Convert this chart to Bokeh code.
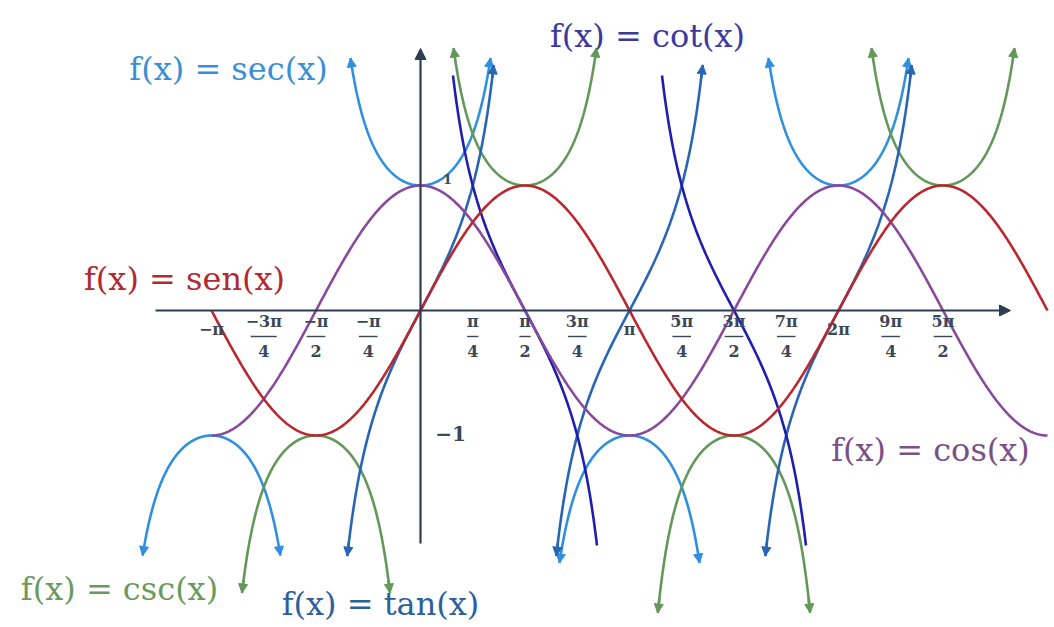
import numpy as np
from bokeh.plotting import figure
from bokeh.models import Range1d, Arrow, NormalHead
from bokeh.core.properties import value
from bokeh.embed import file_html
from bokeh.resources import INLINE

PI = np.pi

# ---------------- data ----------------
# x-axis ticks, in multiples of pi/4, with stacked fraction labels
tick_quarters = [-4, -3, -2, -1, 1, 2, 3, 4, 5, 6, 7, 8, 9, 10]
tick_numerators = ["−π", "−3π", "−π", "−π", "π", "π", "3π", "π", "5π", "3π", "7π", "2π", "9π", "5π"]
tick_denominators = ["", "4", "2", "4", "4", "2", "4", "", "4", "2", "4", "", "4", "2"]

# sine / cosine drawn over this domain (radians)
wave_domain = [-PI, 3 * PI]

# tangent branches: centres and half width (radians)
tan_centers = [0.0, PI, 2 * PI]
tan_half_width = 1.10

# cotangent branches: centres and |value| where they stop
cot_centers = [PI / 2, 3 * PI / 2]
cot_limit = 1.88

# secant branches: centres and |value| where they stop
sec_centers = [-PI, 0.0, PI, 2 * PI]
sec_limits = [1.96, 2.02, 2.02, 2.02]

# cosecant branches: centres and |value| where they stop
csc_centers = [-PI / 2, PI / 2, 3 * PI / 2, 5 * PI / 2]
csc_limits = [2.26, 2.10, 2.42, 2.10]

label_texts = ["f(x) = sec(x)", "f(x) = cot(x)", "f(x) = sen(x)",
               "f(x) = cos(x)", "f(x) = csc(x)", "f(x) = tan(x)"]

# ---------------- layout helpers (page pixels -> data) ----------------
OX, OY, PX_PI, PX_UNIT = 420.0, 310.0, 209.0, 125.0


def dx(px):
    return (px - OX) / PX_PI * PI


def dy(py):
    return (OY - py) / PX_UNIT


W, H = 1050, 622
p = figure(width=W, height=H, output_backend="svg", toolbar_location=None,
           x_range=Range1d(dx(0), dx(W)), y_range=Range1d(dy(H), dy(0)),
           x_axis_location=None, y_axis_location=None, min_border=0,
           outline_line_color=None, background_fill_color="white")
p.grid.visible = False

C_SIN = "#b8282e"
C_COS = "#8a4a9c"
C_SEC = "#2f90e0"
C_TAN = "#2866b5"
C_COT = "#1f1fae"
C_CSC = "#64985a"
C_AXIS = "#2c3e50"
LW = 2.6


def add_arrowheads(x, y, color):
    for (xs, ys, xe, ye) in [(x[-4], y[-4], x[-1], y[-1]), (x[3], y[3], x[0], y[0])]:
        p.add_layout(Arrow(end=NormalHead(size=9, fill_color=color, line_color=color),
                           x_start=xs, y_start=ys, x_end=xe, y_end=ye,
                           line_color=color, line_width=LW))


# axes
p.add_layout(Arrow(end=NormalHead(size=11, fill_color=C_AXIS, line_color=C_AXIS),
                   x_start=dx(155), y_start=0, x_end=dx(1010), y_end=0,
                   line_color=C_AXIS, line_width=2.2))
p.add_layout(Arrow(end=NormalHead(size=11, fill_color=C_AXIS, line_color=C_AXIS),
                   x_start=0, y_start=dy(543), x_end=0, y_end=dy(48),
                   line_color=C_AXIS, line_width=2.2))

# secant (light blue)
for c, L in zip(sec_centers, sec_limits):
    h = np.arccos(1.0 / L)
    x = np.linspace(c - h, c + h, 300)
    y = 1.0 / np.cos(x)
    p.line(x, y, line_color=C_SEC, line_width=LW)
    add_arrowheads(x, y, C_SEC)

# cosecant (green)
for c, L in zip(csc_centers, csc_limits):
    h = np.arccos(1.0 / L)
    x = np.linspace(c - h, c + h, 300)
    y = 1.0 / np.sin(x)
    p.line(x, y, line_color=C_CSC, line_width=LW)
    add_arrowheads(x, y, C_CSC)

# tangent (medium blue)
for c in tan_centers:
    x = np.linspace(c - tan_half_width, c + tan_half_width, 300)
    y = np.tan(x)
    p.line(x, y, line_color=C_TAN, line_width=LW)
    add_arrowheads(x, y, C_TAN)

# cotangent (dark blue)
for c in cot_centers:
    e = np.arctan(1.0 / cot_limit)
    x = np.linspace(c - PI / 2 + e, c + PI / 2 - e, 300)
    y = 1.0 / np.tan(x)
    p.line(x, y, line_color=C_COT, line_width=LW)

# cosine and sine
xw = np.linspace(wave_domain[0], wave_domain[1], 800)
p.line(xw, np.cos(xw), line_color=C_COS, line_width=LW)
p.line(xw, np.sin(xw), line_color=C_SIN, line_width=LW)

# tick labels
TICK_FONT = value("DejaVu Serif")
TICK_COLOR = "#3a4858"
for q, num, den in zip(tick_quarters, tick_numerators, tick_denominators):
    xt = q * PI / 4
    if den:
        p.text([xt], [dy(321)], text=[num], text_font=TICK_FONT, text_font_size="16px",
               text_font_style="bold", text_color=TICK_COLOR,
               text_align="center", text_baseline="middle")
        p.text([xt], [dy(350)], text=[den], text_font=TICK_FONT, text_font_size="16px",
               text_font_style="bold", text_color=TICK_COLOR,
               text_align="center", text_baseline="middle")
        half = 0.055 * len(num) + 0.03
        p.segment([xt - half], [dy(336)], [xt + half], [dy(336)],
                  line_color=TICK_COLOR, line_width=1.4)
    else:
        p.text([xt], [dy(329)], text=[num], text_font=TICK_FONT, text_font_size="16px",
               text_font_style="bold", text_color=TICK_COLOR,
               text_align="center", text_baseline="middle")

p.text([dx(450)], [dy(433)], text=["−1"], text_font=TICK_FONT, text_font_size="20px",
       text_font_style="bold", text_color=TICK_COLOR, text_align="center", text_baseline="middle")
p.text([dx(447)], [dy(178)], text=["1"], text_font=TICK_FONT, text_font_size="13px",
       text_font_style="bold", text_color=TICK_COLOR, text_align="center", text_baseline="middle")

# function labels
label_px = [(228, 68), (647, 35), (184, 278), (930, 449), (119, 588), (380, 603)]
label_colors = ["#3a8fd4", "#3b3b9e", "#b02a30", "#7a5088", "#6a9a60", "#2d5f9c"]
for t, (lx, ly), col in zip(label_texts, label_px, label_colors):
    p.text([dx(lx)], [dy(ly)], text=[t], text_font=value("DejaVu Serif"),
           text_font_size="32px", text_color=col,
           text_align="center", text_baseline="middle")

open("out.html", "w").write(file_html(p, INLINE))
